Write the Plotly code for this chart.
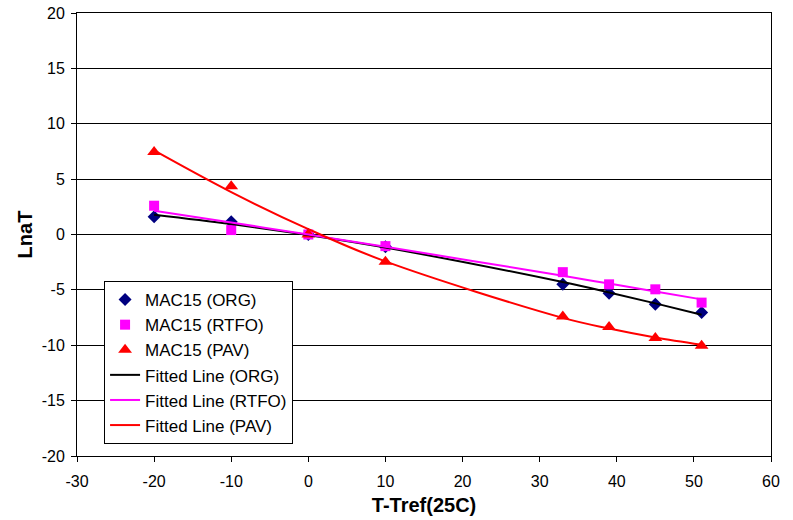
import numpy as np
import plotly.graph_objects as go

# Data
temp_diff = [-20, -10, 0, 10, 33, 39, 45, 51]
lnat_org = [1.6, 1.15, 0.0, -1.1, -4.5, -5.3, -6.3, -7.05]
lnat_rtfo = [2.6, 0.4, 0.0, -1.05, -3.4, -4.5, -4.95, -6.15]
lnat_pav = [7.45, 4.35, 0.0, -2.45, -7.4, -8.35, -9.35, -10.05]

x_ticks = [-30, -20, -10, 0, 10, 20, 30, 40, 50, 60]
y_ticks = [-20, -15, -10, -5, 0, 5, 10, 15, 20]
x_tick_text = [str(v) for v in x_ticks]
y_tick_text = [str(v) for v in y_ticks]


def fitted(xs, ys):
    # 2nd order polynomial trendline (as in the spreadsheet), evaluated at the data x values
    c = np.polyfit(xs, ys, 2)
    return list(np.polyval(c, xs))


fig = go.Figure()
fig.add_trace(go.Scatter(x=temp_diff, y=lnat_org, mode="markers", name="MAC15 (ORG)",
                         marker=dict(symbol="diamond", size=10, color="#000080")))
fig.add_trace(go.Scatter(x=temp_diff, y=lnat_rtfo, mode="markers", name="MAC15 (RTFO)",
                         marker=dict(symbol="square", size=10, color="#FF00FF")))
fig.add_trace(go.Scatter(x=temp_diff, y=lnat_pav, mode="markers", name="MAC15 (PAV)",
                         marker=dict(symbol="triangle-up", size=12, color="#FF0000")))
fig.add_trace(go.Scatter(x=temp_diff, y=fitted(temp_diff, lnat_org), mode="lines",
                         name="Fitted Line (ORG)", line=dict(color="black", width=2, shape="spline")))
fig.add_trace(go.Scatter(x=temp_diff, y=fitted(temp_diff, lnat_rtfo), mode="lines",
                         name="Fitted Line (RTFO)", line=dict(color="#FF00FF", width=2, shape="spline")))
fig.add_trace(go.Scatter(x=temp_diff, y=fitted(temp_diff, lnat_pav), mode="lines",
                         name="Fitted Line (PAV)", line=dict(color="#FF0000", width=2, shape="spline")))

font_family = "Liberation Sans, Arial, sans-serif"

fig.update_layout(
    width=793, height=520,
    margin=dict(l=77, r=22, t=13, b=64),
    paper_bgcolor="white", plot_bgcolor="white",
    font=dict(family=font_family, size=16, color="black"),
    showlegend=True,
    legend=dict(x=0.039, y=0.395, xanchor="left", yanchor="top",
                bgcolor="white", bordercolor="black", borderwidth=1,
                font=dict(size=17, color="black"), itemwidth=30,
                tracegroupgap=0),
    xaxis=dict(range=[-30, 60], tickvals=x_ticks, ticktext=x_tick_text,
               ticks="outside", ticklen=5, tickcolor="black",
               ticklabelstandoff=6,
               showgrid=False, zeroline=False, automargin=False,
               showline=True, linecolor="black", linewidth=1, mirror=True,
               title=dict(text="<b>T-Tref(25C)</b>", font=dict(size=20), standoff=8),
               tickfont=dict(size=16)),
    yaxis=dict(range=[-20, 20], tickvals=y_ticks, ticktext=y_tick_text,
               ticks="outside", ticklen=5, tickcolor="black",
               ticklabelstandoff=3,
               showgrid=True, gridcolor="black", gridwidth=1,
               zeroline=False, automargin=False,
               showline=True, linecolor="black", linewidth=1, mirror=True,
               title=dict(text="<b>LnaT</b>", font=dict(size=20), standoff=3),
               tickfont=dict(size=16)),
)

fig.write_html("out.html")
